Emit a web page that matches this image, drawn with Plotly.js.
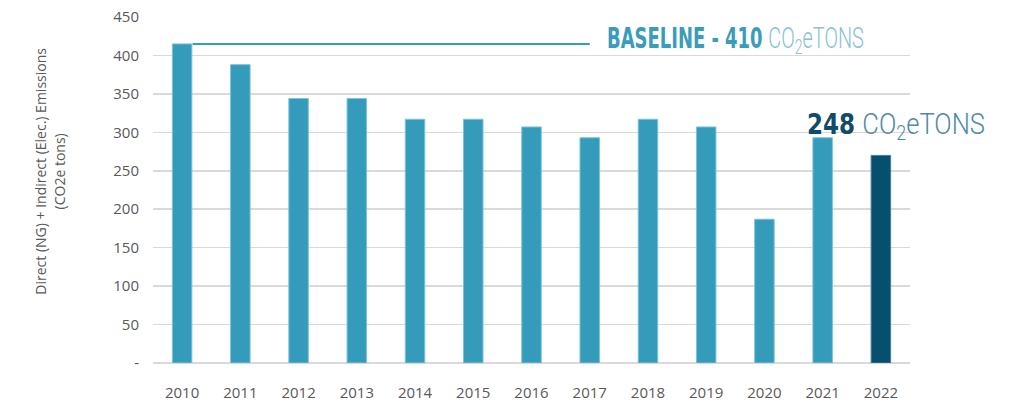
<!DOCTYPE html>
<html>
<head>
<meta charset="utf-8">
<script src="https://cdn.plot.ly/plotly-3.0.1.min.js"></script>
<style>html,body{margin:0;padding:0;background:#fff;}#chart{width:1026px;height:404px;}</style>
</head>
<body>
<div id="chart"></div>
<script>
const years = ['2010','2011','2012','2013','2014','2015','2016','2017','2018','2019','2020','2021','2022'];
const emissions = [415, 388, 344, 344, 317, 317, 307, 293, 317, 307, 187, 293, 270];
const yTickVals = [0, 50, 100, 150, 200, 250, 300, 350, 400, 450];
const yTickText = ['-', '50', '100', '150', '200', '250', '300', '350', '400', '450'];
const baselineLabel = 'BASELINE - 410';
const currentLabel = '248';
const unitLabel = 'CO<sub>2</sub>eTONS';
const yTitle = 'Direct (NG) + Indirect (Elec.) Emissions<br>(CO2e tons)';

const barColor = '#359bbb';
const lastColor = '#064f6e';
const colors = years.map((y, i) => i === years.length - 1 ? lastColor : barColor);
const lineColors = years.map((y, i) => i === years.length - 1 ? '#3f7f9c' : '#7cc3da');

const headFont = '"DejaVu Sans Condensed", "DejaVu Sans", sans-serif';
const lightStyle = 'font-family:Roboto,\'Open Sans\',sans-serif;font-weight:300';
const bodyFont = '"Open Sans", "Noto Sans", sans-serif';
// desired rendered widths (px) of the two headline annotations
const headlineWidths = {1: 257, 2: 178};

const data = [{
  type: 'bar',
  x: years,
  y: emissions,
  marker: {color: colors, line: {color: lineColors, width: 1}},
  hoverinfo: 'x+y'
}];

const layout = {
  width: 1026, height: 404,
  margin: {l: 153, r: 116, t: 17, b: 41},
  paper_bgcolor: '#ffffff', plot_bgcolor: '#ffffff',
  showlegend: false,
  bargap: 0.665,
  font: {family: bodyFont, color: '#595959', size: 15},
  xaxis: {
    type: 'category',
    range: [-0.5, years.length - 0.5],
    autorange: false,
    tickfont: {family: bodyFont, size: 15, color: '#595959'},
    ticks: 'outside', ticklen: 16, tickcolor: 'rgba(0,0,0,0)',
    showgrid: false, zeroline: false, showline: false
  },
  yaxis: {
    range: [0, 450], autorange: false,
    tickvals: yTickVals, ticktext: yTickText,
    tickfont: {family: bodyFont, size: 15, color: '#595959'},
    ticks: 'outside', ticklen: 10, tickcolor: 'rgba(0,0,0,0)',
    showgrid: true, gridcolor: '#d9d9d9', gridwidth: 1.5,
    zeroline: true, zerolinecolor: '#d9d9d9', zerolinewidth: 2,
    showline: false
  },
  shapes: [
    {
      type: 'line', xref: 'x', yref: 'y',
      x0: 0.18, x1: 7, y0: emissions[0], y1: emissions[0],
      line: {color: '#3a9cbc', width: 2}
    },
    // white masks hiding gridlines behind the headline texts
    {
      type: 'rect', layer: 'between', xref: 'paper', yref: 'y',
      x0: 0.594, x1: 0.948, y0: 396, y1: 404,
      fillcolor: '#ffffff', line: {width: 0}
    },
    {
      type: 'rect', layer: 'between', xref: 'paper', yref: 'y',
      x0: 0.858, x1: 1.01, y0: 296, y1: 304,
      fillcolor: '#ffffff', line: {width: 0}
    }
  ],
  annotations: [
    {
      xref: 'paper', yref: 'paper', x: -0.136, y: 0.553,
      xanchor: 'center', yanchor: 'middle', textangle: -90,
      text: yTitle, showarrow: false,
      font: {family: bodyFont, size: 14, color: '#595959'}
    },
    {
      xref: 'x', yref: 'y', x: 7.26, y: 420, xanchor: 'left', yanchor: 'middle',
      showarrow: false,
      text: '<b><span style="color:#3a9cbc">' + baselineLabel + '</span></b> <span style="color:#86c3d8;' + lightStyle + '">' + unitLabel + '</span>',
      font: {family: headFont, size: 29}
    },
    {
      xref: 'x', yref: 'y', x: 10.7, y: 308, xanchor: 'left', yanchor: 'middle',
      showarrow: false,
      text: '<b><span style="color:#0f4c6b">' + currentLabel + '</span></b> <span style="color:#4f8aa6;' + lightStyle + '">' + unitLabel + '</span>',
      font: {family: headFont, size: 29}
    }
  ]
};

Plotly.newPlot('chart', data, layout, {displayModeBar: false, staticPlot: true}).then(function () {
  Object.keys(headlineWidths).forEach(function (idx) {
    const g = document.querySelector('g.annotation[data-index="' + idx + '"]');
    if (!g) return;
    const t = g.querySelector('text.annotation-text');
    if (!t) return;
    const bb = t.getBBox();
    if (!bb.width) return;
    const s = headlineWidths[idx] / bb.width;
    const prev = t.getAttribute('transform') || '';
    t.setAttribute('transform', prev + ' matrix(' + s + ',0,0,1,' + (bb.x * (1 - s)) + ',0)');
  });
});
</script>
</body>
</html>
